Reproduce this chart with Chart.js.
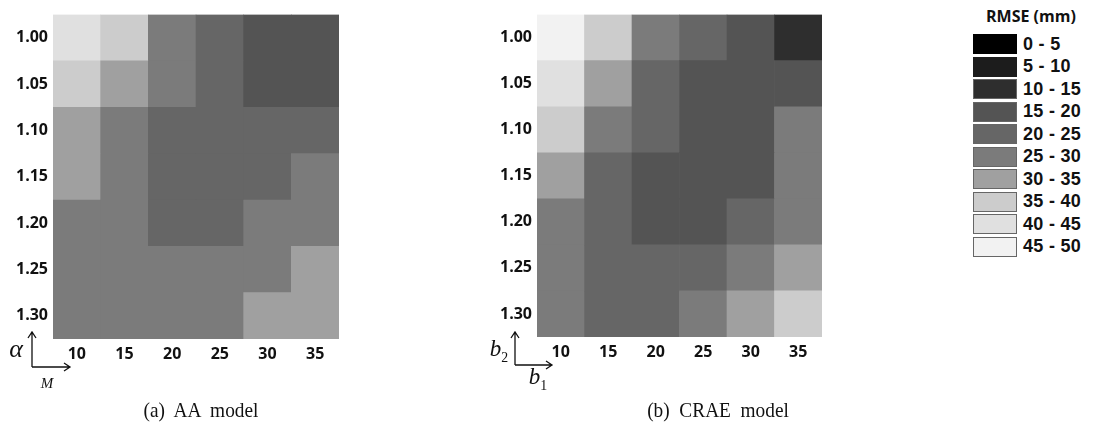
<!DOCTYPE html>
<html>
<head>
<meta charset="utf-8">
<script src="https://cdn.jsdelivr.net/npm/chart.js@4.4.1/dist/chart.umd.min.js"></script>
<style>
  body { margin: 0; background: #fff; width: 1093px; height: 436px; position: relative; overflow: hidden; }
  canvas { position: absolute; }
  .cap { position: absolute; font-family: "Liberation Serif", serif; font-size: 21px; color: #111; white-space: pre; transform: translate(-50%, -50%) scaleX(0.92); }
  .math { position: absolute; font-family: "Liberation Serif", serif; font-style: italic; color: #111; transform: translate(-50%, -50%); }
  .math sub { font-style: normal; font-size: 60%; }
  #legend { position: absolute; left: 973px; top: 6px; font-family: "Liberation Sans", Arial, sans-serif; }
  #legend .title { position: absolute; left: 13px; top: -1px; font-family: "Open Sans", sans-serif; font-weight: bold; font-size: 16px; white-space: nowrap; color: #111; }
  #legend .item { position: absolute; left: 0; height: 20px; display: flex; align-items: center; white-space: nowrap; }
  #legend .box { width: 44px; height: 20px; box-sizing: border-box; border: 1px solid #666; margin-right: 6px; }
  #legend .lbl { font-weight: bold; font-size: 18px; color: #111; letter-spacing: 0.3px; }
</style>
</head>
<body>
<canvas id="aaChart" width="345" height="372" style="left:0px;top:0px"></canvas>
<canvas id="craeChart" width="338" height="372" style="left:490px;top:0px"></canvas>
<div id="legend"></div>

<svg width="1093" height="436" style="position:absolute;left:0;top:0" fill="none" stroke="#111" stroke-width="1.3">
  <path d="M32 367 L32 332 M28 338 L32 332 L36 338 M32 367 L70 367 M64 363 L70 367 L64 371"/>
  <path d="M515 365 L515 332 M511 338 L515 332 L519 338 M515 365 L552 365 M546 361 L552 365 L546 369"/>
</svg>
<div class="math" style="left:16px;top:349px;font-size:26px">α</div>
<div class="math" style="left:47px;top:383px;font-size:15px">M</div>
<div class="math" style="left:499px;top:351px;font-size:23px">b<sub>2</sub></div>
<div class="math" style="left:538px;top:379px;font-size:23px">b<sub>1</sub></div>
<div class="cap" style="left:201px;top:410px">(a)  AA  model</div>
<div class="cap" style="left:718px;top:410px">(b)  CRAE  model</div>

<script>
const colLabels = ['10', '15', '20', '25', '30', '35'];
const rowLabels = ['1.00', '1.05', '1.10', '1.15', '1.20', '1.25', '1.30'];

// RMSE (mm) per cell, rows top to bottom
const aaRmse = [
    [42, 37, 27, 22, 17, 17],
    [37, 32, 27, 22, 17, 17],
    [32, 27, 22, 22, 22, 22],
    [32, 27, 22, 22, 22, 27],
    [27, 27, 22, 22, 27, 27],
    [27, 27, 27, 27, 27, 32],
    [27, 27, 27, 27, 32, 32]
];
const craeRmse = [
    [47, 37, 27, 22, 17, 12],
    [42, 32, 22, 17, 17, 17],
    [37, 27, 22, 17, 17, 27],
    [32, 22, 17, 17, 17, 27],
    [27, 22, 17, 17, 22, 27],
    [27, 22, 22, 22, 27, 32],
    [27, 22, 22, 27, 32, 37]
];

const binLabels = ['0 - 5', '5 - 10', '10 - 15', '15 - 20', '20 - 25', '25 - 30', '30 - 35', '35 - 40', '40 - 45', '45 - 50'];
const greys = ['#000000', '#1c1c1c', '#2e2e2e', '#545454', '#666666', '#7b7b7b', '#a0a0a0', '#cccccc', '#e0e0e0', '#f2f2f2'];

function colorFor(v) {
    return greys[Math.min(greys.length - 1, Math.floor(v / 5))];
}

const tickFont = { family: '"Open Sans", sans-serif', size: 16, weight: 'bold' };

function makeHeatmap(id, rmse, yWidth, xHeight, padding) {
    const bottomUp = rowLabels.slice().reverse();
    const datasets = bottomUp.map((lbl, k) => {
        const row = rmse[rowLabels.length - 1 - k];
        return {
            label: lbl,
            data: colLabels.map(() => 1),
            backgroundColor: row.map(colorFor),
            borderWidth: 0,
            barPercentage: 1,
            categoryPercentage: 1
        };
    });

    return new Chart(document.getElementById(id), {
        type: 'bar',
        data: { labels: colLabels, datasets: datasets },
        options: {
            responsive: false,
            animation: false,
            layout: { padding: padding },
            plugins: { legend: { display: false }, tooltip: { enabled: false } },
            scales: {
                x: {
                    stacked: true,
                    grid: { display: false, drawTicks: false },
                    border: { display: false },
                    ticks: { font: tickFont, color: '#111', padding: 6, maxRotation: 0 },
                    afterFit: (s) => { s.height = xHeight; }
                },
                y: {
                    stacked: true,
                    min: 0,
                    max: rowLabels.length,
                    grid: { display: false, drawTicks: false },
                    border: { display: false },
                    afterBuildTicks: (s) => { s.ticks = bottomUp.map((_, i) => ({ value: i + 0.5 })); },
                    ticks: {
                        font: tickFont,
                        color: '#111',
                        padding: 5,
                        autoSkip: false,
                        callback: (value, index) => bottomUp[index]
                    },
                    afterFit: (s) => { s.width = yWidth; }
                }
            }
        }
    });
}

makeHeatmap('aaChart', aaRmse, 53, 33, { top: 7, right: 6, bottom: 0, left: 0 });
makeHeatmap('craeChart', craeRmse, 47, 35, { top: 6, right: 6, bottom: 0, left: 0 });

// legend built from the bins
const legend = document.getElementById('legend');
const title = document.createElement('div');
title.className = 'title';
title.textContent = 'RMSE (mm)';
legend.appendChild(title);
binLabels.forEach((lbl, i) => {
    const item = document.createElement('div');
    item.className = 'item';
    item.style.top = (28 + i * 22.5) + 'px';
    const box = document.createElement('div');
    box.className = 'box';
    box.style.background = greys[i];
    if (i < 2) box.style.borderColor = greys[i];
    const text = document.createElement('span');
    text.className = 'lbl';
    text.textContent = lbl;
    item.appendChild(box);
    item.appendChild(text);
    legend.appendChild(item);
});
</script>
</body>
</html>
